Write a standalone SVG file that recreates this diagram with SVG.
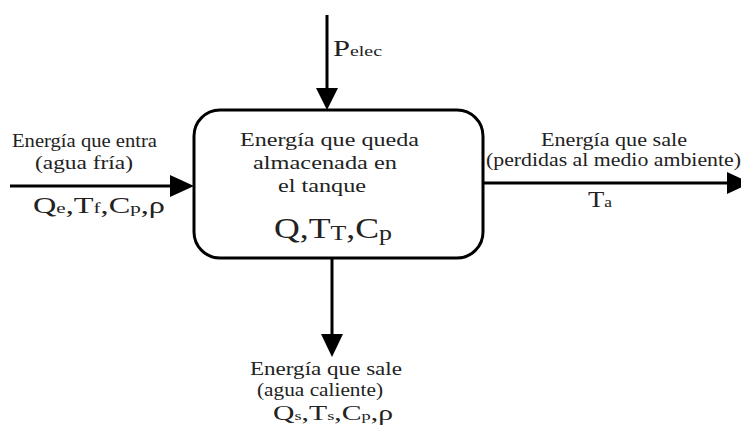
<svg xmlns="http://www.w3.org/2000/svg" width="741" height="428" viewBox="0 0 741 428">
<style>
text{font-family:"Liberation Serif","Times New Roman",serif;fill:#222}
.t{font-size:18px}
.v{font-size:23px}
.v2{font-size:21px}
.s{font-size:15px}
.s2{font-size:13px}
.big{font-size:29px}
.bs{font-size:21px}
.ln{stroke:#000;stroke-width:3;fill:none}
</style>
<rect width="741" height="428" fill="#fff"/>
<g id="connectors">
<line class="ln" x1="327" y1="15" x2="327" y2="92"/>
<polygon points="316,88 338,88 327,110" fill="#000"/>
<line class="ln" x1="10" y1="186" x2="174" y2="186"/>
<polygon points="170,175 170,197 194,186" fill="#000"/>
<line class="ln" x1="483" y1="183" x2="730" y2="183"/>
<polygon points="727,172 727,194 751,183" fill="#000"/>
<line class="ln" x1="332" y1="258" x2="332" y2="338"/>
<polygon points="321,334 343,334 332,357" fill="#000"/>
</g>
<g id="tank">
<rect x="194" y="110" width="289" height="148" rx="26" ry="26" fill="#fff" stroke="#000" stroke-width="3"/>
<text class="t" x="240" y="146" textLength="179" lengthAdjust="spacingAndGlyphs">Energía que queda</text>
<text class="t" x="253" y="169" textLength="144" lengthAdjust="spacingAndGlyphs">almacenada en</text>
<text class="t" x="278" y="192" textLength="88" lengthAdjust="spacingAndGlyphs">el tanque</text>
<text class="big" x="274" y="238" textLength="118" lengthAdjust="spacingAndGlyphs">Q,T<tspan class="bs" dy="2">T</tspan><tspan dy="-2">,C</tspan><tspan class="bs" dy="2">p</tspan></text>
</g>
<g id="pelec">
<text class="v" x="333" y="56" textLength="49" lengthAdjust="spacingAndGlyphs">P<tspan class="s">elec</tspan></text>
</g>
<g id="inflow">
<text class="t" x="12" y="147" textLength="145" lengthAdjust="spacingAndGlyphs">Energía que entra</text>
<text class="t" x="35" y="169" textLength="98" lengthAdjust="spacingAndGlyphs">(agua fría)</text>
<text class="v" x="33" y="213" textLength="132" lengthAdjust="spacingAndGlyphs">Q<tspan class="s">e</tspan>,T<tspan class="s">f</tspan>,C<tspan class="s">p</tspan>,ρ</text>
</g>
<g id="losses">
<text class="t" x="541" y="146" textLength="146" lengthAdjust="spacingAndGlyphs">Energía que sale</text>
<text class="t" x="486" y="166" textLength="255" lengthAdjust="spacingAndGlyphs">(perdidas al medio ambiente)</text>
<text class="v" x="588" y="207" textLength="24" lengthAdjust="spacingAndGlyphs">T<tspan class="s">a</tspan></text>
</g>
<g id="outflow">
<text class="t" x="250" y="375" textLength="152" lengthAdjust="spacingAndGlyphs">Energía que sale</text>
<text class="t" x="257" y="396" textLength="126" lengthAdjust="spacingAndGlyphs">(agua caliente)</text>
<text class="v2" x="273" y="420" textLength="120" lengthAdjust="spacingAndGlyphs">Q<tspan class="s2">s</tspan>,T<tspan class="s2">s</tspan>,C<tspan class="s2">p</tspan>,ρ</text>
</g>
</svg>
